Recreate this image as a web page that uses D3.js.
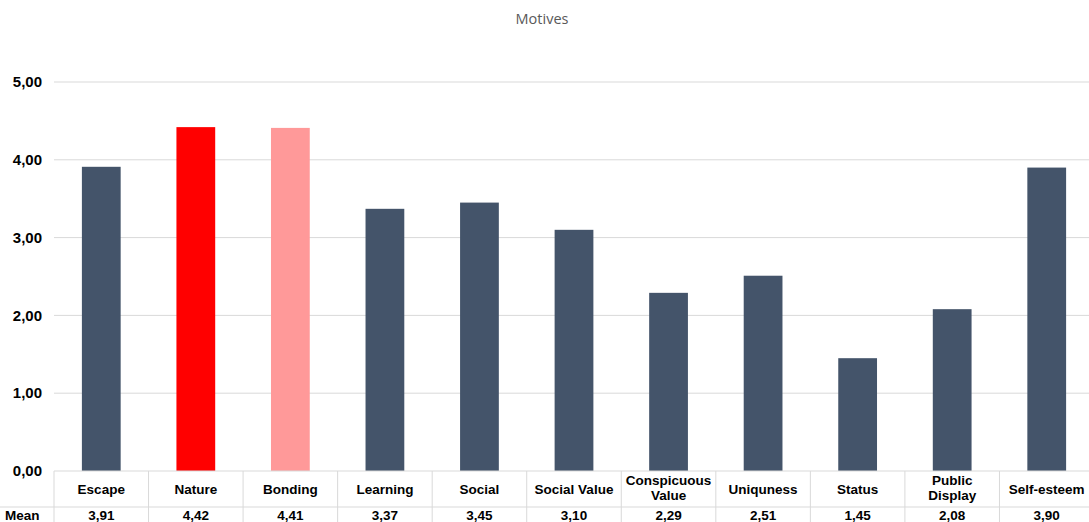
<!DOCTYPE html>
<html>
<head>
<meta charset="utf-8">
<script src="https://cdn.jsdelivr.net/npm/d3@7"></script>
<style>
  body { margin: 0; background: #fff; }
  svg { display: block; }
</style>
</head>
<body>
<div id="chart"></div>
<script>
const categories = [
  ["Escape"], ["Nature"], ["Bonding"], ["Learning"], ["Social"], ["Social Value"],
  ["Conspicuous", "Value"], ["Uniquness"], ["Status"], ["Public", "Display"], ["Self-esteem"]
];
const means = [3.91, 4.42, 4.41, 3.37, 3.45, 3.10, 2.29, 2.51, 1.45, 2.08, 3.90];
const barColors = ["#44546A", "#FF0000", "#FF9999", "#44546A", "#44546A", "#44546A",
  "#44546A", "#44546A", "#44546A", "#44546A", "#44546A"];
const yTicks = [0, 1, 2, 3, 4, 5];

const width = 1089, height = 522;
const plotLeft = 54, plotRight = 1094, plotTop = 82, zeroY = 471;
const rowSplit = 507;

const fmt = v => v.toFixed(2).replace(".", ",");

const svg = d3.select("#chart").append("svg")
    .attr("width", width)
    .attr("height", height)
    .style("font-family", "'Liberation Sans', Arial, sans-serif");

const x = d3.scaleBand()
    .domain(d3.range(categories.length))
    .range([plotLeft, plotRight])
    .paddingInner(0)
    .paddingOuter(0);

const y = d3.scaleLinear().domain([0, 5]).range([zeroY, plotTop]);

// title
svg.append("text")
    .attr("x", 542)
    .attr("y", 24)
    .attr("text-anchor", "middle")
    .attr("fill", "#595959")
    .style("font-family", "'Open Sans', Calibri, sans-serif")
    .style("font-size", "14.5px")
    .text("Motives");

// gridlines
svg.append("g")
  .selectAll("line")
  .data(yTicks.filter(d => d > 0))
  .join("line")
    .attr("x1", plotLeft)
    .attr("x2", plotRight)
    .attr("y1", d => y(d))
    .attr("y2", d => y(d))
    .attr("stroke", "#d9d9d9")
    .attr("stroke-width", 1);

// y labels
svg.append("g")
  .selectAll("text")
  .data(yTicks)
  .join("text")
    .attr("x", 42)
    .attr("y", d => y(d))
    .attr("dy", "0.35em")
    .attr("text-anchor", "end")
    .attr("font-weight", "bold")
    .attr("font-size", "15px")
    .attr("fill", "#000")
    .text(fmt);

// bars
const barW = x.bandwidth() * 0.41;
svg.append("g")
  .selectAll("rect")
  .data(means)
  .join("rect")
    .attr("x", (d, i) => x(i) + (x.bandwidth() - barW) / 2)
    .attr("y", d => y(d))
    .attr("width", barW)
    .attr("height", d => zeroY - y(d))
    .attr("fill", (d, i) => barColors[i]);

// data table
const table = svg.append("g").attr("stroke", "#d9d9d9").attr("stroke-width", 1);
table.selectAll("line.v")
  .data(d3.range(categories.length + 1))
  .join("line")
    .attr("class", "v")
    .attr("x1", i => i < categories.length ? x(i) : plotRight)
    .attr("x2", i => i < categories.length ? x(i) : plotRight)
    .attr("y1", zeroY)
    .attr("y2", height);
table.append("line")
    .attr("x1", 0).attr("x2", plotRight)
    .attr("y1", rowSplit).attr("y2", rowSplit);
table.append("line")
    .attr("x1", plotLeft).attr("x2", plotRight)
    .attr("y1", zeroY).attr("y2", zeroY);

const labels = svg.append("g")
    .attr("font-weight", "bold")
    .attr("font-size", "13.5px")
    .attr("fill", "#000")
    .attr("text-anchor", "middle");

labels.selectAll("text.cat")
  .data(categories)
  .join("text")
    .attr("class", "cat")
    .attr("x", (d, i) => x(i) + x.bandwidth() / 2)
    .attr("y", d => d.length > 1 ? 485 : 494)
    .each(function(d) {
      const cx = d3.select(this).attr("x");
      d3.select(this).selectAll("tspan")
        .data(d)
        .join("tspan")
          .attr("x", cx)
          .attr("dy", (t, j) => j ? 15 : 0)
          .text(t => t);
    });

labels.selectAll("text.val")
  .data(means)
  .join("text")
    .attr("class", "val")
    .attr("x", (d, i) => x(i) + x.bandwidth() / 2)
    .attr("y", 520)
    .text(fmt);

labels.append("text")
    .attr("x", 5)
    .attr("y", 520)
    .attr("text-anchor", "start")
    .text("Mean");
</script>
</body>
</html>
